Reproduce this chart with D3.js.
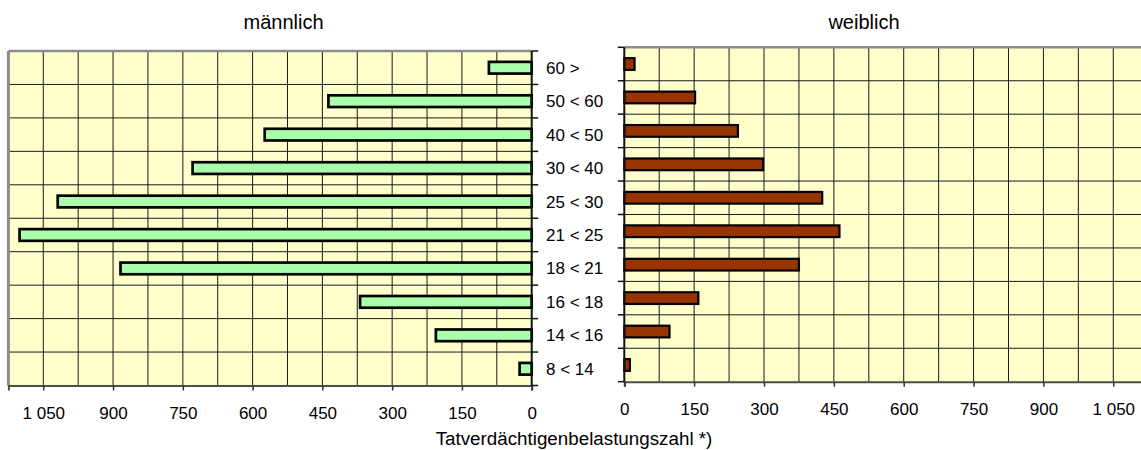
<!DOCTYPE html>
<html>
<head>
<meta charset="utf-8">
<script src="https://cdn.jsdelivr.net/npm/d3@7/dist/d3.min.js"></script>
<style>
  html, body { margin: 0; padding: 0; background: #fff; }
  svg { display: block; font-family: Arial, "Liberation Sans", sans-serif; }
</style>
</head>
<body>
<svg id="chart" width="1141" height="450"></svg>
<script>
// Age groups (top to bottom)
const categories = ["60 >", "50 < 60", "40 < 50", "30 < 40", "25 < 30", "21 < 25", "18 < 21", "16 < 18", "14 < 16", "8 < 14"];
// Tatverdächtigenbelastungszahl per age group
const maleValues = [92, 437, 574, 729, 1019, 1101, 884, 369, 206, 26];
const femaleValues = [22, 152, 244, 298, 425, 462, 375, 159, 97, 12];
// Axis settings
const axisMax = 1125;
const labelTicks = [0, 150, 300, 450, 600, 750, 900, 1050];
const gridTicks = d3.range(75, axisMax, 75);

const svg = d3.select("#chart");
const fmt = v => v >= 1000 ? Math.floor(v / 1000) + " " + String(v % 1000).padStart(3, "0") : String(v);

const bg = "#FFFFCC";
const gridColor = "#1a1a1a";
const borderGray = "#8c8c8c";

function panel(opts) {
  const { x0, x1, yTop, yBottom, values, fill, stroke, strokeWidth, reversed, tickSide } = opts;
  const x = d3.scaleLinear().domain([0, axisMax]).range(reversed ? [x1, x0] : [x0, x1]);
  const y = d3.scaleBand().domain(categories).range([yTop, yBottom]);
  const left = Math.min(x0, x1), right = Math.max(x0, x1);
  const g = svg.append("g");

  // plot area
  g.append("rect").attr("x", left).attr("y", yTop).attr("width", right - left).attr("height", yBottom - yTop)
    .attr("fill", bg);

  // vertical grid lines
  g.selectAll("line.vg").data(gridTicks).join("line")
    .attr("x1", d => x(d)).attr("x2", d => x(d))
    .attr("y1", yTop).attr("y2", yBottom)
    .attr("stroke", gridColor).attr("stroke-width", 1);

  // horizontal grid lines on category boundaries
  g.selectAll("line.hg").data(categories.slice(1)).join("line")
    .attr("x1", left).attr("x2", right)
    .attr("y1", d => y(d)).attr("y2", d => y(d))
    .attr("stroke", gridColor).attr("stroke-width", 1);

  // plot area border (top and outer side)
  g.append("line").attr("x1", left).attr("x2", right).attr("y1", yTop).attr("y2", yTop)
    .attr("stroke", borderGray).attr("stroke-width", 2.5);
  if (reversed) {
    g.append("line").attr("x1", left).attr("x2", left).attr("y1", yTop).attr("y2", yBottom)
      .attr("stroke", borderGray).attr("stroke-width", 3);
  }

  // bars
  const bh = y.bandwidth() * 0.35;
  g.selectAll("rect.bar").data(values).join("rect")
    .attr("x", d => Math.min(x(0), x(d)))
    .attr("width", d => Math.abs(x(d) - x(0)))
    .attr("y", (d, i) => y(categories[i]) + (y.bandwidth() - bh) / 2)
    .attr("height", bh)
    .attr("fill", fill).attr("stroke", stroke).attr("stroke-width", strokeWidth);

  // bottom value axis
  const ax = g.append("g").attr("transform", `translate(0,${yBottom})`)
    .call(d3.axisBottom(x).tickValues(labelTicks).tickFormat(fmt).tickSize(5).tickPadding(16));
  ax.select(".domain").attr("stroke", "#4d4d4d").attr("stroke-width", 2);
  ax.selectAll(".tick line").attr("stroke", "#333").attr("stroke-width", 1.5);
  ax.selectAll(".tick text").attr("font-size", 17).attr("fill", "#000")
    .attr("font-family", "Arial, 'Liberation Sans', sans-serif");

  // category axis at the zero line
  const cax = g.append("g").attr("transform", `translate(${x(0)},0)`);
  cax.append("line").attr("x1", 0).attr("x2", 0).attr("y1", yTop).attr("y2", yBottom)
    .attr("stroke", "#111").attr("stroke-width", 2);
  const bounds = categories.map(c => y(c)).concat([yBottom]);
  cax.selectAll("line.ct").data(bounds).join("line")
    .attr("x1", 0).attr("x2", tickSide * 6.5)
    .attr("y1", d => d).attr("y2", d => d)
    .attr("stroke", "#111").attr("stroke-width", 1.5);

  return { x, y };
}

const m = panel({ x0: 8.4, x1: 531.7, yTop: 51, yBottom: 385.5, values: maleValues,
  fill: "#AAFFAA", stroke: "#000", strokeWidth: 2.7, reversed: true, tickSide: 1 });
const w = panel({ x0: 624.3, x1: 1148.2, yTop: 47.3, yBottom: 381.7, values: femaleValues,
  fill: "#993300", stroke: "#000", strokeWidth: 2.2, reversed: false, tickSide: -1 });

// category labels between the panels
svg.append("g").selectAll("text").data(categories).join("text")
  .attr("x", 546)
  .attr("y", d => m.y(d) + m.y.bandwidth() / 2 + 6)
  .attr("font-size", 17)
  .text(d => d);

// panel titles
svg.append("text").attr("x", 283.5).attr("y", 29).attr("text-anchor", "middle")
  .attr("font-size", 20).text("männlich");
svg.append("text").attr("x", 864).attr("y", 29).attr("text-anchor", "middle")
  .attr("font-size", 20).text("weiblich");

// value axis title
svg.append("text").attr("x", 574).attr("y", 445).attr("text-anchor", "middle")
  .attr("font-size", 18.8).text("Tatverdächtigenbelastungszahl *)");
</script>
</body>
</html>
